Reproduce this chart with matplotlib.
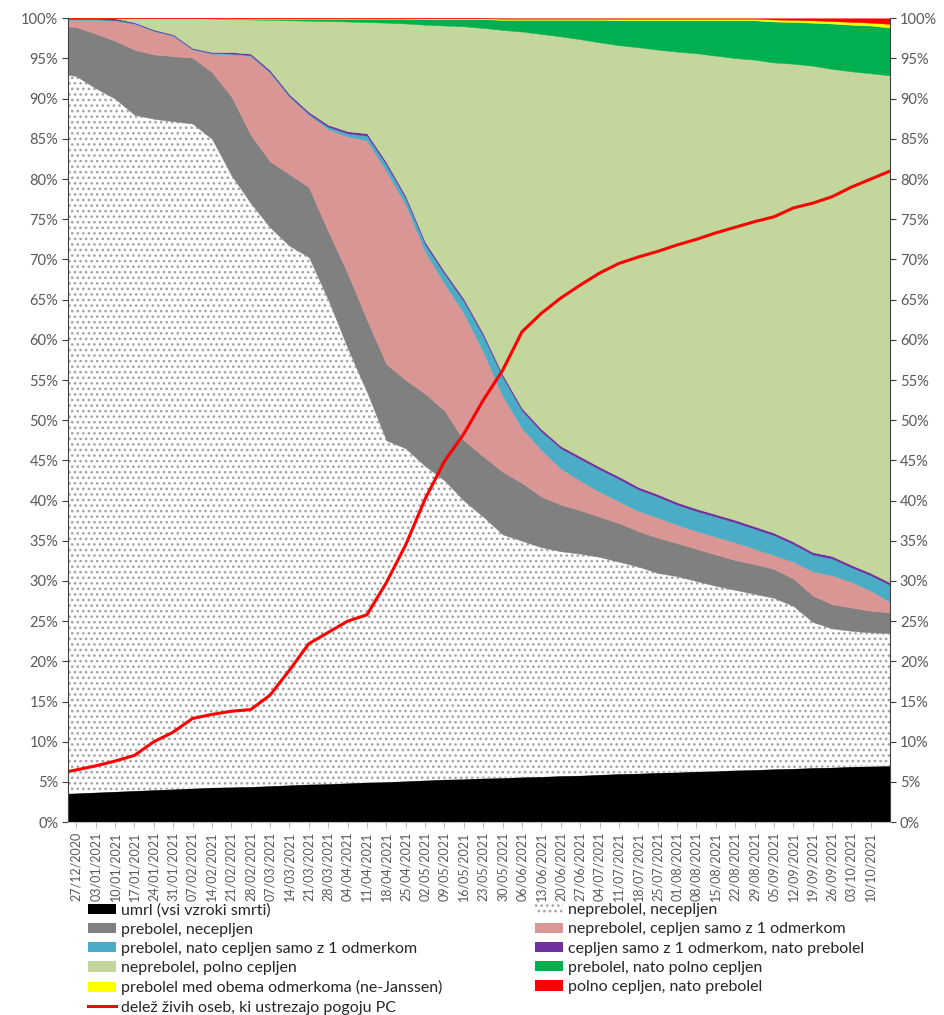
import matplotlib
matplotlib.use('Agg')
import matplotlib.pyplot as plt
import matplotlib.dates as mdates
import matplotlib.ticker as mticker
from matplotlib.patches import Patch
from matplotlib.lines import Line2D
import pandas as pd

plt.rcParams['font.family'] = ['Lato', 'DejaVu Sans']
plt.rcParams['hatch.linewidth'] = 1.1

# Dates: start of series, then weekly points
dates = pd.to_datetime(['2020-12-24']).append(
    pd.date_range('2020-12-27', '2021-10-17', freq='7D'))

# Upper edge of each stacked band (cumulative share of population, %)
top_umrl = [3.55, 3.6, 3.7, 3.8, 3.9, 4.0, 4.1, 4.2, 4.3, 4.35, 4.4, 4.5, 4.6, 4.7, 4.75,
            4.85, 4.95, 5.0, 5.1, 5.2, 5.3, 5.35, 5.45, 5.5, 5.6, 5.65, 5.75, 5.8, 5.9, 6.0,
            6.05, 6.15, 6.2, 6.3, 6.35, 6.45, 6.5, 6.6, 6.65, 6.75, 6.8, 6.9, 6.95, 7.0]
top_neprebolel_necepljen = [93.0, 92.8, 91.3, 90.0, 88.0, 87.5, 87.2, 86.9, 85.0, 80.5, 77.0,
                            74.0, 71.7, 70.3, 65.0, 59.0, 53.5, 47.5, 46.5, 44.3, 42.5, 40.0,
                            38.0, 35.8, 35.0, 34.2, 33.7, 33.4, 33.0, 32.4, 31.8, 31.0, 30.6,
                            30.0, 29.4, 28.9, 28.4, 27.9, 26.9, 24.9, 24.1, 23.8, 23.6, 23.5]
top_prebolel_necepljen = [99.0, 98.9, 98.1, 97.2, 96.1, 95.5, 95.3, 95.1, 93.3, 90.3, 85.5,
                          82.2, 80.6, 79.0, 73.5, 68.3, 62.5, 57.0, 55.0, 53.3, 51.2, 47.5,
                          45.5, 43.6, 42.2, 40.5, 39.5, 38.8, 38.0, 37.2, 36.2, 35.4, 34.7,
                          34.0, 33.3, 32.6, 32.1, 31.5, 30.3, 28.2, 27.1, 26.7, 26.3, 26.1]
top_neprebolel_1 = [99.8, 99.8, 99.8, 99.7, 99.3, 98.4, 97.8, 96.1, 95.6, 95.5, 95.3, 93.2,
                    90.2, 88.0, 86.2, 85.3, 84.8, 81.0, 76.8, 71.0, 67.0, 63.3, 58.5, 53.0,
                    49.0, 46.3, 44.0, 42.5, 41.1, 39.9, 38.7, 37.9, 37.0, 36.2, 35.5, 34.8,
                    34.0, 33.2, 32.4, 31.2, 30.7, 29.9, 28.8, 27.4]
top_prebolel_nato_1 = [99.9, 99.9, 99.9, 99.8, 99.38, 98.48, 97.88, 96.18, 95.68, 95.62, 95.42,
                       93.32, 90.32, 88.12, 86.5, 85.7, 85.4, 81.8, 77.6, 71.9, 68.2, 64.8,
                       60.5, 55.4, 51.2, 48.6, 46.5, 45.2, 43.9, 42.7, 41.4, 40.5, 39.5, 38.7,
                       38.0, 37.3, 36.5, 35.7, 34.6, 33.3, 32.8, 31.7, 30.7, 29.5]
top_1_nato_prebolel = [100, 100, 100, 100, 99.5, 98.6, 98.0, 96.3, 95.8, 95.8, 95.6, 93.55,
                       90.55, 88.35, 86.75, 85.95, 85.7, 82.1, 77.9, 72.2, 68.5, 65.1, 60.8,
                       55.7, 51.5, 48.9, 46.8, 45.5, 44.2, 43.0, 41.7, 40.8, 39.8, 39.0, 38.3,
                       37.6, 36.8, 36.0, 34.9, 33.6, 33.1, 32.0, 31.0, 29.8]
top_neprebolel_polno = [100, 100, 100, 100, 100, 100, 100, 100, 99.98, 99.9, 99.85, 99.8,
                        99.75, 99.7, 99.65, 99.6, 99.53, 99.45, 99.35, 99.2, 99.1, 99.0, 98.8,
                        98.55, 98.35, 98.05, 97.75, 97.4, 97.0, 96.65, 96.4, 96.1, 95.85,
                        95.65, 95.35, 95.05, 94.85, 94.5, 94.35, 94.1, 93.7, 93.4, 93.15, 92.9]
top_prebolel_nato_polno = [100, 100, 100, 100, 100, 100, 100, 100, 100, 99.95, 99.95, 99.95,
                           99.95, 99.95, 99.95, 99.95, 99.95, 99.95, 99.95, 99.9, 99.9, 99.9,
                           99.9, 99.8, 99.8, 99.8, 99.8, 99.8, 99.8, 99.75, 99.75, 99.75,
                           99.75, 99.75, 99.75, 99.75, 99.75, 99.6, 99.55, 99.45, 99.35, 99.2,
                           99.1, 98.85]
top_med_odmerkoma = [100, 100, 100, 100, 100, 100, 100, 100, 100, 100, 100, 100, 100, 100,
                     100, 100, 100, 100, 100, 100, 100, 100, 100, 99.95, 99.95, 99.95, 99.95,
                     99.95, 99.95, 99.95, 99.95, 99.95, 99.95, 99.95, 99.95, 99.95, 99.95,
                     99.85, 99.8, 99.75, 99.65, 99.55, 99.45, 99.3]

# Share of living persons meeting the PC condition (%)
delez_pc = [6.3, 6.5, 7.0, 7.6, 8.3, 10.0, 11.2, 12.9, 13.4, 13.8, 14.0, 15.8, 18.9, 22.2,
            23.6, 25.0, 25.8, 29.8, 34.5, 40.2, 44.9, 48.3, 52.5, 56.2, 61.0, 63.3, 65.2,
            66.8, 68.3, 69.5, 70.3, 71.0, 71.8, 72.5, 73.3, 74.0, 74.7, 75.3, 76.4, 77.0,
            77.8, 79.0, 80.0, 81.0]

labels = ['umrl (vsi vzroki smrti)', 'neprebolel, necepljen', 'prebolel, necepljen',
          'neprebolel, cepljen samo z 1 odmerkom', 'prebolel, nato cepljen samo z 1 odmerkom',
          'cepljen samo z 1 odmerkom, nato prebolel', 'neprebolel, polno cepljen',
          'prebolel, nato polno cepljen', 'prebolel med obema odmerkoma (ne-Janssen)',
          'polno cepljen, nato prebolel']
line_label = 'delež živih oseb, ki ustrezajo pogoju PC'
colors = ['#000000', '#ffffff', '#808080', '#d99694', '#4bacc6', '#7030a0', '#c3d69b',
          '#00b050', '#ffff00', '#ff0000']
dot_color = '#a3a3a3'

edges = [[0] * len(dates), top_umrl, top_neprebolel_necepljen, top_prebolel_necepljen,
         top_neprebolel_1, top_prebolel_nato_1, top_1_nato_prebolel, top_neprebolel_polno,
         top_prebolel_nato_polno, top_med_odmerkoma, [100] * len(dates)]

fig = plt.figure(figsize=(9.44, 10.15), dpi=100)
ax = fig.add_axes([0.072, 0.190, 0.871, 0.792])

handles = []
for i, (lab, col) in enumerate(zip(labels, colors)):
    if i == 1:
        ax.fill_between(dates, edges[i], edges[i + 1], facecolor=col, edgecolor=dot_color,
                        hatch='...', lw=0)
        handles.append(Patch(facecolor=col, edgecolor=dot_color, hatch='...', lw=0, label=lab))
    else:
        ax.fill_between(dates, edges[i], edges[i + 1], facecolor=col, edgecolor=col, lw=0.3)
        handles.append(Patch(facecolor=col, edgecolor=col, lw=0, label=lab))

ax.plot(dates, delez_pc, color='#ff0000', lw=2.2, solid_capstyle='round')
line_handle = Line2D([], [], color='#ff0000', lw=2.2, label=line_label)

ax.set_xlim(dates[0], dates[-1])
ax.set_ylim(0, 100)
ax.yaxis.set_major_locator(mticker.MultipleLocator(5))
ax.yaxis.set_major_formatter(mticker.FuncFormatter(lambda v, p: f'{v:.0f}%'))
ax.tick_params(axis='y', left=True, right=True, labelleft=True, labelright=True,
               direction='out', length=4, color='#404040', labelcolor='#595959',
               labelsize=10.5, pad=3)

week_ticks = pd.date_range('2020-12-27', '2021-10-10', freq='7D')
ax.set_xticks(week_ticks)
ax.xaxis.set_major_formatter(mdates.DateFormatter('%d/%m/%Y'))
ax.tick_params(axis='x', direction='out', length=4, color='#bfbfbf', labelcolor='#595959',
               labelsize=9, labelrotation=90, pad=3)

for side in ['left', 'right']:
    ax.spines[side].set_color('#404040')
ax.spines['bottom'].set_color('#bfbfbf')
ax.spines['top'].set_visible(False)

left_col = [handles[0], handles[2], handles[4], handles[6], handles[8], line_handle]
right_col = [handles[1], handles[3], handles[5], handles[7], handles[9]]
for hs, xpos in [(left_col, 88 / 944), (right_col, 535 / 944)]:
    fig.legend(handles=hs, loc='upper left', bbox_to_anchor=(xpos, 1 - 903 / 1015),
               frameon=False, fontsize=11.5, handlelength=1.75, handleheight=0.6,
               handletextpad=0.3, labelspacing=0.33, borderpad=0, borderaxespad=0,
               labelcolor='#262626')

fig.savefig('out.png', dpi=100)
